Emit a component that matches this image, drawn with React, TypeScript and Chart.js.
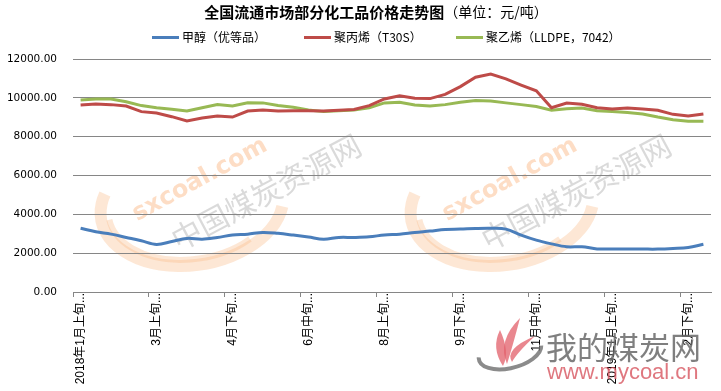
import React, { useEffect, useRef } from 'react';
import { Chart, registerables } from 'chart.js';

Chart.register(...registerables);

// ---- data ----
const categories: string[] = [
  '2018年1月上旬', '1月中旬', '1月下旬', '2月上旬', '2月下旬', '3月上旬', '3月中旬', '3月下旬', '4月上旬', '4月中旬', '4月下旬',
  '5月上旬', '5月中旬', '5月下旬', '6月上旬', '6月中旬', '6月下旬', '7月上旬', '7月中旬', '7月下旬', '8月上旬',
  '8月中旬', '8月下旬', '9月上旬', '9月中旬', '9月下旬', '10月上旬', '10月中旬', '10月下旬', '11月上旬', '11月中旬',
  '11月下旬', '12月上旬', '12月中旬', '12月下旬', '2019年1月上旬', '1月中旬', '1月下旬', '2月上旬', '2月中旬', '2月下旬', '3月上旬',
];

const methanol: number[] = [
  3280, 3100, 2980, 2810, 2640, 2450, 2600, 2760, 2720, 2810, 2930,
  2980, 3070, 3020, 2930, 2830, 2720, 2810, 2810, 2840, 2940,
  2980, 3070, 3140, 3220, 3240, 3270, 3280, 3240, 2930, 2670,
  2480, 2330, 2330, 2220, 2210, 2210, 2210, 2210, 2240, 2290, 2460,
];

const polypropylene: number[] = [
  9630, 9680, 9650, 9580, 9290, 9220, 9030, 8810, 8960, 9060, 9010,
  9320, 9370, 9320, 9340, 9340, 9320, 9360, 9400, 9600, 9940,
  10100, 9980, 9960, 10180, 10580, 11060, 11220, 10980, 10660, 10360,
  9490, 9730, 9670, 9490, 9420, 9480, 9420, 9360, 9150, 9060, 9170,
];

const polyethylene: number[] = [
  9890, 9940, 9940, 9800, 9600, 9490, 9410, 9320, 9490, 9650, 9580,
  9750, 9740, 9610, 9510, 9370, 9290, 9340, 9370, 9490, 9740,
  9770, 9630, 9580, 9650, 9770, 9860, 9840, 9740, 9650, 9550,
  9360, 9440, 9480, 9340, 9290, 9240, 9170, 9010, 8870, 8800, 8800,
];

const seriesNames: string[] = ['甲醇（优等品）', '聚丙烯（T30S）', '聚乙烯（LLDPE，7042）'];
const seriesColors: string[] = ['#4A7EBB', '#BE4B48', '#98B954'];
const titleMain = '全国流通市场部分化工品价格走势图';
const titleUnit = '（单位：元/吨）';
const yTicksMin = 0;
const yTicksMax = 12000;
const yTicksStep = 2000;
const labelEvery = 5;

const CJK = '"Noto Sans CJK SC", "DejaVu Sans", sans-serif';

const titleLegendPlugin = {
  id: 'titleLegend',
  afterDraw(chart: any) {
    const ctx = chart.ctx as CanvasRenderingContext2D;
    ctx.save();
    // title
    ctx.textBaseline = 'middle';
    ctx.textAlign = 'left';
    ctx.fillStyle = '#000';
    ctx.font = `bold 15px ${CJK}`;
    const w1 = ctx.measureText(titleMain).width;
    ctx.font = `14px ${CJK}`;
    const w2 = ctx.measureText(titleUnit).width;
    const tx = 376 - (w1 + w2) / 2;
    ctx.font = `bold 15px ${CJK}`;
    ctx.fillText(titleMain, tx, 12);
    ctx.font = `14px ${CJK}`;
    ctx.fillText(titleUnit, tx + w1, 12);
    // legend
    chart.data.datasets.forEach((ds: any, i: number) => {
      const x0 = 152 + 152 * i;
      ctx.strokeStyle = ds.borderColor;
      ctx.lineWidth = 3;
      ctx.beginPath();
      ctx.moveTo(x0, 37.5);
      ctx.lineTo(x0 + 27, 37.5);
      ctx.stroke();
      ctx.fillStyle = '#000';
      ctx.font = `12px ${CJK}`;
      ctx.fillText(ds.label, x0 + 30, 37);
    });
    ctx.restore();
  },
};

function drawWatermarkCopy(ctx: CanvasRenderingContext2D, dx: number) {
  ctx.save();
  // orange arc
  ctx.strokeStyle = 'rgba(250,185,135,0.35)';
  ctx.lineWidth = 12;
  ctx.beginPath();
  ctx.ellipse(192 + dx, 205, 92, 60, -0.15, 0.25, 3.55);
  ctx.stroke();
  ctx.lineWidth = 6;
  ctx.beginPath();
  ctx.ellipse(192 + dx, 205, 84, 54, -0.15, 0.9, 3.1);
  ctx.stroke();
  // sxcoal.com
  ctx.save();
  ctx.translate(200 + dx, 180);
  ctx.rotate(-0.5);
  ctx.font = 'bold 24px "DejaVu Sans", sans-serif';
  ctx.fillStyle = 'rgba(250,170,110,0.4)';
  ctx.textAlign = 'center';
  ctx.textBaseline = 'middle';
  ctx.fillText('sxcoal.com', 0, 0);
  ctx.restore();
  // 中国煤炭资源网
  ctx.save();
  ctx.translate(266 + dx, 192);
  ctx.rotate(-0.49);
  ctx.font = `30px ${CJK}`;
  ctx.fillStyle = 'rgba(150,150,150,0.35)';
  ctx.textAlign = 'center';
  ctx.textBaseline = 'middle';
  ctx.fillText('中国煤炭资源网', 0, 0);
  ctx.restore();
  ctx.restore();
}

const watermarkPlugin = {
  id: 'watermark',
  beforeDraw(chart: any) {
    const ctx = chart.ctx as CanvasRenderingContext2D;
    ctx.save();
    ctx.fillStyle = '#fff';
    ctx.fillRect(0, 0, chart.width, chart.height);
    ctx.restore();
    drawWatermarkCopy(ctx, 0);
    drawWatermarkCopy(ctx, 310);
  },
  afterDraw(chart: any) {
    const ctx = chart.ctx as CanvasRenderingContext2D;
    ctx.save();
    // swoosh
    ctx.strokeStyle = 'rgba(110,110,110,0.8)';
    ctx.lineWidth = 4;
    ctx.beginPath();
    ctx.ellipse(510, 352, 32, 16, -0.25, 0.1, 3.3);
    ctx.stroke();
    // flame petals
    ctx.fillStyle = 'rgba(225,95,105,0.75)';
    const petal = (bx: number, by: number, tx: number, ty: number, w: number) => {
      ctx.beginPath();
      ctx.moveTo(bx, by);
      ctx.quadraticCurveTo(bx - w, (by + ty) / 2, tx, ty);
      ctx.quadraticCurveTo(bx + w * 0.6, (by + ty) / 2 + 4, bx, by);
      ctx.fill();
    };
    petal(503, 366, 500, 330, 12);
    petal(507, 364, 520, 318, 10);
    petal(512, 362, 535, 336, 8);
    // texts
    ctx.fillStyle = 'rgba(105,105,105,0.85)';
    ctx.font = `31px ${CJK}`;
    ctx.textAlign = 'left';
    ctx.textBaseline = 'middle';
    ctx.fillText('我的煤炭网', 546, 347);
    ctx.fillStyle = 'rgba(215,85,95,0.8)';
    ctx.font = '22px "Liberation Sans", sans-serif';
    ctx.fillText('www.mycoal.cn', 547, 373);
    ctx.restore();
  },
};

export default function App() {
  const canvasRef = useRef<HTMLCanvasElement | null>(null);

  useEffect(() => {
    if (!canvasRef.current) return;
    const chart = new Chart(canvasRef.current, {
      type: 'line',
      data: {
        labels: categories,
        datasets: [
          { label: seriesNames[0], data: methanol, borderColor: seriesColors[0], backgroundColor: seriesColors[0], borderWidth: 3, pointRadius: 0, tension: 0.35, fill: false },
          { label: seriesNames[1], data: polypropylene, borderColor: seriesColors[1], backgroundColor: seriesColors[1], borderWidth: 3, pointRadius: 0, tension: 0, fill: false },
          { label: seriesNames[2], data: polyethylene, borderColor: seriesColors[2], backgroundColor: seriesColors[2], borderWidth: 3, pointRadius: 0, tension: 0, fill: false },
        ],
      },
      options: {
        responsive: false,
        animation: false,
        layout: { padding: { top: 59, right: 10, left: 0, bottom: 0 } },
        plugins: {
          legend: { display: false },
          title: { display: false },
          tooltip: { enabled: false },
        },
        scales: {
          x: {
            type: 'category',
            offset: true,
            grid: {
              display: true,
              drawOnChartArea: false,
              drawTicks: true,
              tickLength: 5,
              offset: true,
              lineWidth: 1,
              color: (c: any) => (typeof c.index === 'number' && c.index % labelEvery === 0 ? '#868686' : 'rgba(0,0,0,0)'),
            },
            border: { display: true, color: '#868686', width: 1 },
            ticks: {
              autoSkip: false,
              minRotation: 90,
              maxRotation: 90,
              padding: -4,
              color: '#000',
              font: { family: '"Liberation Sans", "Noto Sans CJK SC", sans-serif', size: 12 },
              callback: (_v: any, i: number) => (i % labelEvery === 0 ? categories[i] + '...' : ''),
            },
            afterFit: (s: any) => { s.height = 99; },
          },
          y: {
            min: yTicksMin,
            max: yTicksMax,
            ticks: {
              stepSize: yTicksStep,
              padding: 16,
              color: '#000',
              font: { family: '"DejaVu Sans", sans-serif', size: 10.5 },
              callback: (v: any) => Number(v).toFixed(2),
            },
            grid: { color: '#868686', drawTicks: false, lineWidth: 1 },
            border: { display: false },
            afterFit: (s: any) => { s.width = 73; },
          },
        },
      } as any,
      plugins: [watermarkPlugin, titleLegendPlugin],
    });
    return () => chart.destroy();
  }, []);

  return (
    <div style={{ position: 'absolute', left: 0, top: 0, width: 721, height: 391, background: '#fff' }}>
      <canvas ref={canvasRef} width={721} height={391} style={{ display: 'block', width: 721, height: 391 }} />
    </div>
  );
}
